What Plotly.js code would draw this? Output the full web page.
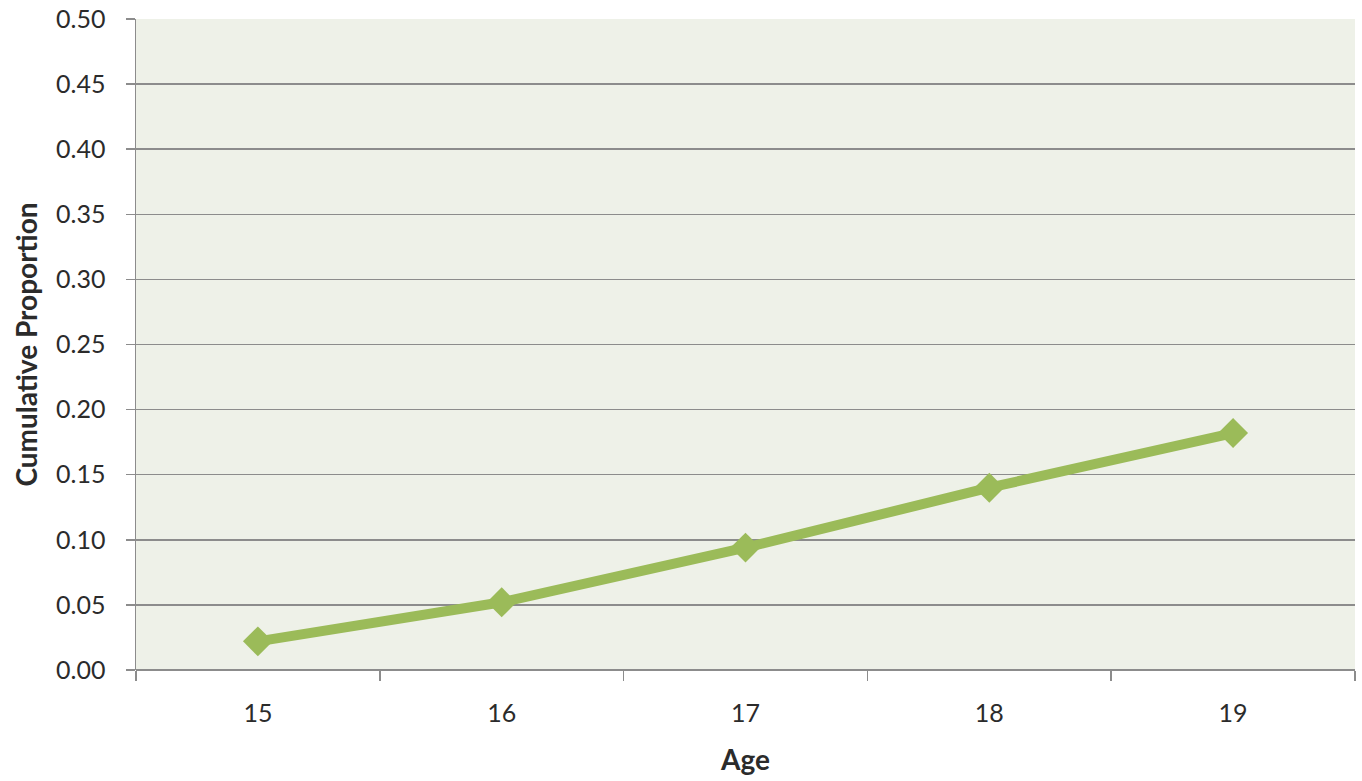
<!DOCTYPE html>
<html>
<head>
<meta charset="utf-8">
<script src="https://cdn.plot.ly/plotly-3.0.1.min.js"></script>
<style>
  html, body { margin: 0; padding: 0; background: #ffffff; }
  #chart { width: 1362px; height: 781px; }
</style>
</head>
<body>
<div id="chart"></div>
<script>
// Cumulative proportion by age
const ages = ['15', '16', '17', '18', '19'];
const cumulativeProportion = [0.022, 0.052, 0.094, 0.140, 0.182];
const yTickValues = [0, 0.05, 0.10, 0.15, 0.20, 0.25, 0.30, 0.35, 0.40, 0.45, 0.50];
const yTickLabels = ['0.00', '0.05', '0.10', '0.15', '0.20', '0.25', '0.30', '0.35', '0.40', '0.45', '0.50'];

const green = '#9BBB59';
const axisGray = '#8c8c8c';
const textColor = '#2b2b2b';
const fontFamily = 'Lato, "Open Sans", sans-serif';

const trace = {
  type: 'scatter',
  mode: 'lines+markers',
  x: ages,
  y: cumulativeProportion,
  line: { color: green, width: 10 },
  marker: { symbol: 'diamond', size: 23, color: green },
  hoverinfo: 'x+y'
};

const layout = {
  width: 1362,
  height: 781,
  margin: { l: 136, r: 7, t: 19, b: 111 },
  paper_bgcolor: '#ffffff',
  plot_bgcolor: '#EEF1E8',
  showlegend: false,
  font: { family: fontFamily, color: textColor, size: 25 },
  xaxis: {
    type: 'category',
    range: [-0.5, ages.length - 0.5],
    tickson: 'boundaries',
    ticks: 'outside',
    ticklen: 10,
    tickwidth: 1.5,
    tickcolor: axisGray,
    showgrid: false,
    showline: false,
    zeroline: false,
    tickfont: { family: fontFamily, size: 25, color: textColor },
    ticklabelstandoff: 26,
    title: { text: '<b>Age</b>', font: { family: fontFamily, size: 28, color: textColor }, standoff: 24 },
    fixedrange: true
  },
  yaxis: {
    range: [0, 0.5],
    tickvals: yTickValues,
    ticktext: yTickLabels,
    ticks: 'outside',
    ticklen: 9,
    tickwidth: 1.5,
    tickcolor: axisGray,
    showgrid: true,
    gridcolor: axisGray,
    gridwidth: 1.5,
    showline: true,
    linecolor: axisGray,
    linewidth: 1.5,
    zeroline: true,
    zerolinecolor: axisGray,
    zerolinewidth: 1.5,
    tickfont: { family: fontFamily, size: 25, color: textColor },
    ticklabelstandoff: 15,
    title: { text: '<b>Cumulative Proportion</b>', font: { family: fontFamily, size: 28, color: textColor }, standoff: 10 },
    fixedrange: true
  }
};

Plotly.newPlot('chart', [trace], layout, { displayModeBar: false, staticPlot: true });
</script>
</body>
</html>
